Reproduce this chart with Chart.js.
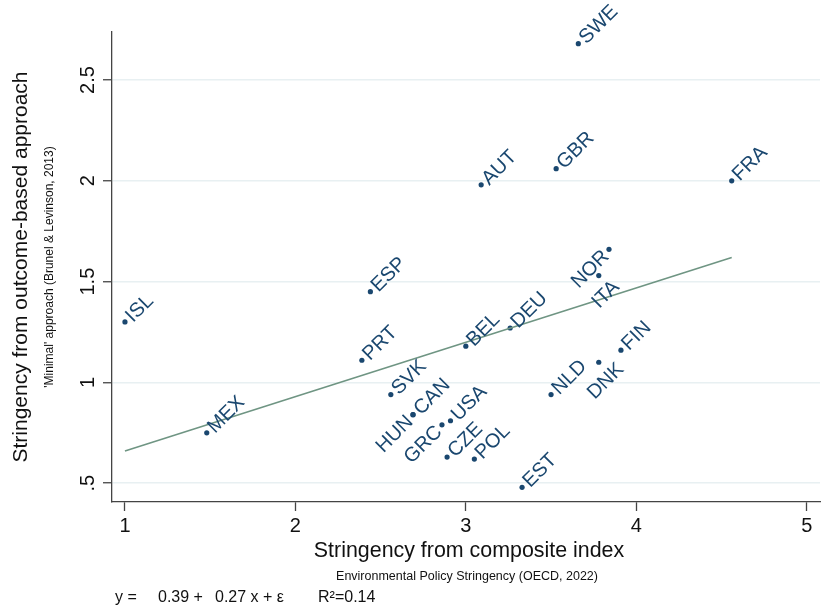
<!DOCTYPE html>
<html>
<head>
<meta charset="utf-8">
<script src="https://cdn.jsdelivr.net/npm/chart.js@4.4.0/dist/chart.umd.min.js"></script>
<style>
  html, body { margin: 0; padding: 0; background: #ffffff; }
  #wrap { width: 825px; height: 613px; position: relative; }
</style>
</head>
<body>
<div id="wrap"><canvas id="c" width="825" height="613"></canvas></div>
<script>
// ---- data ----
const countries = ['SWE','AUT','GBR','FRA','NOR','ITA','ESP','ISL','DEU','BEL','PRT','FIN','DNK','NLD','SVK','HUN','CAN','GRC','USA','CZE','POL','EST','MEX'];
const compositeIndex = [3.66,3.09,3.53,4.56,3.84,3.78,2.44,1.00,3.26,3.00,2.39,3.91,3.78,3.50,2.56,2.69,2.69,2.86,2.91,2.89,3.05,3.33,1.48];
const outcomeApproach = [2.68,1.98,2.06,2.00,1.66,1.53,1.45,1.30,1.27,1.18,1.11,1.16,1.10,0.94,0.94,0.84,0.84,0.79,0.81,0.63,0.62,0.48,0.75];
const labelPositions = ['r','r','r','r','l','b','r','r','r','r','r','r','b','r','r','l','r','l','r','r','r','r','r'];
const fitX = [1.00, 4.56];
const fitY = [0.66, 1.62];
const xTicks = [1, 2, 3, 4, 5];
const xTickLabels = ['1', '2', '3', '4', '5'];
const yTicks = [0.5, 1, 1.5, 2, 2.5];
const yTickLabels = ['.5', '1', '1.5', '2', '2.5'];
const xTitle = 'Stringency from composite index';
const xSubtitle = 'Environmental Policy Stringency (OECD, 2022)';
const yTitle = 'Stringency from outcome-based approach';
const ySubtitle = "'Minimal' approach (Brunel & Levinson, 2013)";
const eqParts = ['y =', '0.39 +', '0.27 x + \u03b5', 'R\u00b2=0.14'];

const FONT = '"Liberation Sans", Arial, Helvetica, sans-serif';
const NARROW = '"Liberation Sans Narrow", "Liberation Sans", Arial, sans-serif';
const NAVY = '#1a476f';

const points = countries.map((c, i) => ({ x: compositeIndex[i], y: outcomeApproach[i], label: c, pos: labelPositions[i] }));
const fitLine = fitX.map((x, i) => ({ x: x, y: fitY[i] }));

const labelPlugin = {
  id: 'labels',
  afterDatasetsDraw(chart) {
    const ctx = chart.ctx;
    const meta = chart.getDatasetMeta(1);
    ctx.save();
    ctx.fillStyle = NAVY;
    ctx.font = '20px ' + FONT;
    meta.data.forEach((el, i) => {
      const p = points[i];
      ctx.save();
      if (p.pos === 'b') {
        ctx.translate(el.x + 7, el.y + 19);
        ctx.rotate(-Math.PI / 4);
        ctx.textAlign = 'center';
        ctx.textBaseline = 'middle';
        ctx.fillText(p.label, 0, 0);
      } else {
        ctx.translate(el.x, el.y);
        ctx.rotate(-Math.PI / 4);
        ctx.textBaseline = 'middle';
        if (p.pos === 'l') {
          ctx.textAlign = 'right';
          ctx.fillText(p.label, -5, 1);
        } else {
          ctx.textAlign = 'left';
          ctx.fillText(p.label, 5, 1);
        }
      }
      ctx.restore();
    });
    ctx.restore();
  },
  afterDraw(chart) {
    const ctx = chart.ctx;
    const a = chart.chartArea;
    const cx = (a.left + a.right) / 2;
    const cy = (a.top + a.bottom) / 2;
    ctx.save();
    ctx.fillStyle = '#111111';
    ctx.textBaseline = 'middle';
    ctx.textAlign = 'center';
    ctx.font = '21.4px ' + FONT;
    ctx.fillText(xTitle, cx + 3, 551);
    ctx.font = '12.5px ' + NARROW;
    ctx.fillText(xSubtitle, cx + 1, 577);
    // y titles
    ctx.save();
    ctx.translate(21, cy);
    ctx.rotate(-Math.PI / 2);
    ctx.font = '21px ' + FONT;
    ctx.fillText(yTitle, 0, 0);
    ctx.restore();
    ctx.save();
    ctx.translate(50, cy);
    ctx.rotate(-Math.PI / 2);
    ctx.font = '12px ' + NARROW;
    ctx.fillText(ySubtitle, 0, 0);
    ctx.restore();
    // equation
    ctx.textAlign = 'left';
    ctx.font = '16px ' + FONT;
    const eqX = [115, 158, 215, 318];
    eqParts.forEach((t, i) => ctx.fillText(t, eqX[i], 598));
    ctx.restore();
  }
};

new Chart(document.getElementById('c'), {
  type: 'scatter',
  data: {
    datasets: [
      {
        type: 'line',
        data: fitLine,
        borderColor: '#6f9583',
        borderWidth: 1.6,
        pointRadius: 0,
        fill: false,
        tension: 0
      },
      {
        data: points,
        backgroundColor: NAVY,
        borderColor: NAVY,
        pointRadius: 2.6,
        borderWidth: 0
      }
    ]
  },
  options: {
    responsive: false,
    animation: false,
    devicePixelRatio: 1,
    layout: { padding: { top: 32, right: 5, left: 0, bottom: 0 } },
    plugins: { legend: { display: false }, tooltip: { enabled: false }, title: { display: false } },
    scales: {
      x: {
        type: 'linear',
        min: 0.924,
        max: 5.078,
        afterBuildTicks(s) { s.ticks = xTicks.map(v => ({ value: v })); },
        afterFit(s) { s.height = 111; },
        border: { display: true, color: '#444444', width: 1.3 },
        grid: { drawOnChartArea: false, drawTicks: true, tickLength: 9, tickColor: '#444444', tickWidth: 1.3 },
        ticks: {
          autoSkip: false,
          maxRotation: 0,
          padding: 3,
          color: '#111111',
          font: { family: FONT, size: 20 },
          callback(v) { const i = xTicks.indexOf(v); return i >= 0 ? xTickLabels[i] : ''; }
        }
      },
      y: {
        type: 'linear',
        min: 0.407,
        max: 2.738,
        afterBuildTicks(s) { s.ticks = yTicks.map(v => ({ value: v })); },
        afterFit(s) { s.width = 112; },
        border: { display: true, color: '#444444', width: 1.3 },
        grid: { drawOnChartArea: true, color: '#e8f0f2', lineWidth: 1.5, drawTicks: true, tickLength: 9, tickColor: '#444444', tickWidth: 1.3 },
        ticks: {
          autoSkip: false,
          minRotation: 90,
          maxRotation: 90,
          crossAlign: 'center',
          padding: 1,
          color: '#111111',
          font: { family: FONT, size: 20 },
          callback(v) { const i = yTicks.indexOf(v); return i >= 0 ? yTickLabels[i] : ''; }
        }
      }
    }
  },
  plugins: [labelPlugin]
});
</script>
</body>
</html>
